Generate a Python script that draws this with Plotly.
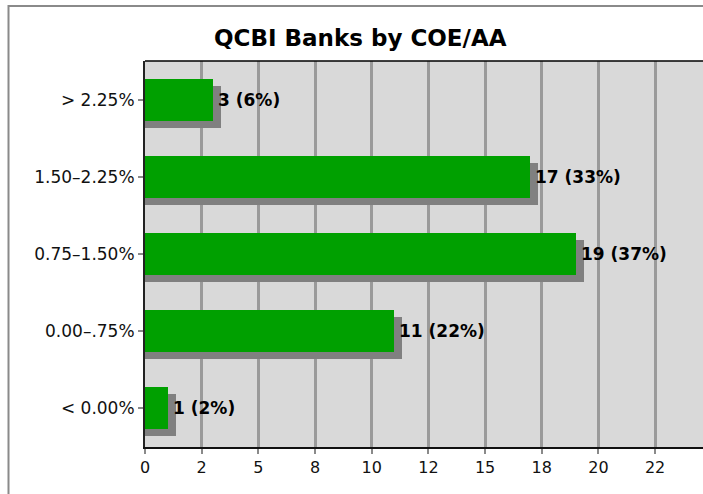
import plotly.graph_objects as go

# ---- data ----
categories = ["< 0.00%", "0.00–.75%", "0.75–1.50%", "1.50–2.25%", "> 2.25%"]
counts = [1, 11, 19, 17, 3]
bar_labels = ["1 (2%)", "11 (22%)", "19 (37%)", "17 (33%)", "3 (6%)"]
x_tickvals = [0, 2.5, 5, 7.5, 10, 12.5, 15, 17.5, 20, 22.5]
x_ticktext = ["0", "2", "5", "8", "10", "12", "15", "18", "20", "22"]
title_text = "QCBI Banks by COE/AA"

# ---- geometry / style ----
W, H = 703, 494
ML, MT, MB, MR = 145, 61, 47, 0
plot_w = W - ML - MR
plot_h = H - MT - MB
px_per_unit = 22.67
x_max = plot_w / px_per_unit
cat_px = plot_h / len(categories)
bar_w = 42 / cat_px
shadow_dx = 8 / px_per_unit
shadow_dy = 7 / cat_px

FONT = "DejaVu Sans"
GREEN = "#00A000"
SHADOW = "#808080"

fig = go.Figure()

fig.add_trace(go.Bar(
    y=categories, x=[c + shadow_dx for c in counts], orientation="h",
    marker=dict(color=SHADOW, line=dict(width=0)),
    width=bar_w, offset=-bar_w / 2 - shadow_dy,
    hoverinfo="skip", showlegend=False,
))
fig.add_trace(go.Bar(
    y=categories, x=counts, orientation="h",
    marker=dict(color=GREEN, line=dict(width=0)),
    width=bar_w, offset=-bar_w / 2,
    showlegend=False,
))

for cat, val, lab in zip(categories, counts, bar_labels):
    fig.add_annotation(
        x=val, y=cat, text=f"<b>{lab}</b>", showarrow=False,
        xanchor="left", yanchor="middle", xshift=3,
        font=dict(family=FONT, size=17, color="#000000"),
    )

# title
fig.add_annotation(
    x=(360 - ML) / plot_w, y=(H - MB - 38) / plot_h, xref="paper", yref="paper",
    text=f"<b>{title_text}</b>", showarrow=False,
    xanchor="center", yanchor="middle",
    font=dict(family=FONT, size=23, color="#000000"),
)

# outer frame (extends past the right/bottom edge)
fig.add_shape(
    type="rect", xref="paper", yref="paper",
    x0=(8.5 - ML) / plot_w, x1=1.5,
    y0=-1.0, y1=(H - MB - 6) / plot_h,
    line=dict(color="#8a8a8a", width=2), fillcolor="rgba(0,0,0,0)", layer="above",
)
# top border of the plot area
fig.add_shape(
    type="line", xref="paper", yref="paper",
    x0=0, x1=1, y0=1, y1=1,
    line=dict(color="#000000", width=1.5), layer="above",
)

fig.update_layout(
    width=W, height=H,
    margin=dict(l=ML, r=MR, t=MT, b=MB),
    paper_bgcolor="white", plot_bgcolor="#D9D9D9",
    barmode="overlay", bargap=0,
    font=dict(family=FONT, size=15, color="#111111"),
    xaxis=dict(
        range=[0, x_max], tickvals=x_tickvals, ticktext=x_ticktext,
        showgrid=True, gridcolor="#9a9a9a", gridwidth=2.5,
        zeroline=False, showline=True, linecolor="#111111", linewidth=2,
        ticks="outside", ticklen=5, tickcolor="#8a8a8a", tickwidth=1.5,
        tickfont=dict(family=FONT, size=16, color="#111111"),
        fixedrange=True,
    ),
    yaxis=dict(
        categoryorder="array", categoryarray=categories,
        range=[-0.5, len(categories) - 0.5],
        showgrid=False, zeroline=False,
        showline=True, linecolor="#222222", linewidth=2,
        ticks="outside", ticklen=5, tickcolor="#8a8a8a", tickwidth=1.5,
        tickfont=dict(family=FONT, size=17, color="#111111"),
        fixedrange=True,
    ),
)

fig.write_html(
    "out.html",
    config={"displayModeBar": False},
    post_script="document.body.style.margin='0';document.body.style.overflow='hidden';",
)
